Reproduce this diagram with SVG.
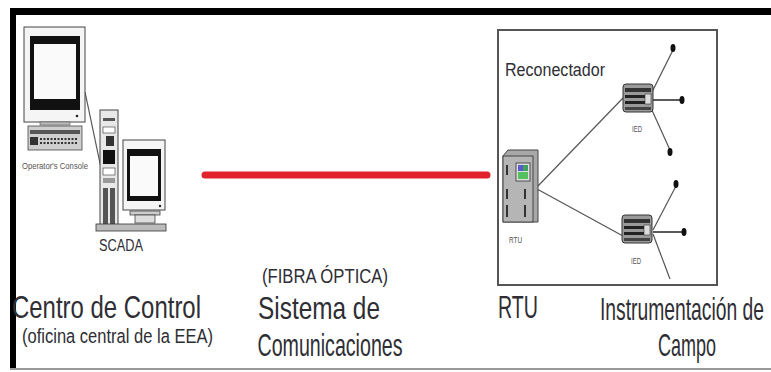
<svg xmlns="http://www.w3.org/2000/svg" width="771" height="372" viewBox="0 0 771 372">
  <defs>
    <style>
      .lbl { font-family: "Liberation Sans", Arial, sans-serif; fill: #2e2e34; }
      .big { font-size: 32px; }
      .mid { font-size: 20px; }
      .tiny { font-family: "Liberation Sans", Arial, sans-serif; font-size: 9px; fill: #555; }
      .dev { stroke: #444; stroke-width: 1; }
      .wire { stroke: #555; stroke-width: 1.2; fill: none; }
      .lead { stroke: #333; stroke-width: 1.6; fill: none; }
    </style>
    <g id="ied-body">
      <rect x="0" y="0" width="30" height="28" rx="3" fill="#9a9a9a" stroke="#333"/>
      <rect x="2" y="4" width="26" height="4" fill="#333"/>
      <rect x="2" y="11" width="20" height="3" fill="#222"/>
      <rect x="2" y="17" width="20" height="3" fill="#222"/>
      <rect x="22" y="10" width="6" height="10" fill="#ddd" stroke="#333" stroke-width="0.6"/>
      <rect x="2" y="23" width="26" height="3" fill="#444"/>
    </g>
  </defs>

  <rect width="771" height="372" fill="#ffffff"/>

  <!-- outer frame -->
  <rect x="10" y="8" width="761" height="7" fill="#000"/>
  <rect x="10" y="8" width="6" height="362" fill="#000"/>
  <rect x="10" y="368" width="761" height="2" fill="#999"/>

  <!-- connectors -->
  <g id="connectors">
    <line x1="85" y1="92" x2="101" y2="168" class="wire"/>
    <line x1="205" y1="175" x2="487" y2="175" stroke="#e3232b" stroke-width="7" stroke-linecap="round"/>
    <line x1="537" y1="187" x2="623" y2="98" class="wire"/>
    <line x1="537" y1="189" x2="623" y2="236" class="wire"/>
    <!-- upper IED leads -->
    <line x1="652" y1="92" x2="673" y2="50" class="wire"/>
    <line x1="652" y1="100" x2="681" y2="100" class="lead"/>
    <line x1="651" y1="108" x2="670" y2="150" class="wire"/>
    <ellipse cx="673" cy="48" rx="2.5" ry="4" fill="#111"/>
    <ellipse cx="682" cy="100" rx="2.5" ry="4" fill="#111"/>
    <ellipse cx="670" cy="152" rx="2.5" ry="4" fill="#111"/>
    <!-- lower IED leads -->
    <line x1="653" y1="230" x2="676" y2="186" class="wire"/>
    <line x1="653" y1="232" x2="683" y2="232" class="lead"/>
    <line x1="653" y1="234" x2="670" y2="279" class="wire"/>
    <ellipse cx="676" cy="184" rx="2.5" ry="4" fill="#111"/>
    <ellipse cx="684" cy="232" rx="2.5" ry="4" fill="#111"/>
  </g>

  <!-- operator console -->
  <g id="operator-console">
    <rect x="24" y="27" width="61" height="95" fill="#f5f5f5" class="dev"/>
    <rect x="30" y="36" width="50" height="74" fill="#111"/>
    <rect x="34" y="44" width="42" height="55" fill="#fafafa"/>
    <circle cx="77" cy="116" r="1.3" fill="#222"/>
    <rect x="40" y="122" width="30" height="3" fill="#bbb" stroke="#555" stroke-width="0.6"/>
    <rect x="28" y="126" width="54" height="24" fill="#cfcfcf" stroke="#444" stroke-width="0.8"/>
    <rect x="30" y="130" width="50" height="4" fill="#555"/>
    <rect x="30" y="137" width="8" height="8" fill="#333"/>
    <path d="M40 139h38M40 143h38" stroke="#333" stroke-width="2" stroke-dasharray="2 1.5"/>
    <text x="55" y="169" text-anchor="middle" class="tiny" font-size="11" textLength="66" lengthAdjust="spacingAndGlyphs" fill="#666">Operator's Console</text>
  </g>

  <!-- SCADA server and monitor -->
  <g id="scada">
    <rect x="100" y="110" width="18" height="118" fill="#e8e8e8" class="dev"/>
    <rect x="103" y="118" width="12" height="3" fill="#555"/>
    <rect x="103" y="127" width="12" height="6" fill="#fff" stroke="#333" stroke-width="0.6"/>
    <rect x="106" y="136" width="8" height="10" fill="#333"/>
    <rect x="103" y="150" width="12" height="14" fill="#111"/>
    <rect x="103" y="168" width="12" height="7" fill="#fff" stroke="#333" stroke-width="0.6"/>
    <rect x="103" y="178" width="12" height="5" fill="#999"/>
    <rect x="103" y="188" width="5" height="36" fill="#555"/>
    <rect x="110" y="188" width="5" height="36" fill="#555"/>
    <rect x="123" y="140" width="42" height="70" fill="#f5f5f5" class="dev"/>
    <rect x="127" y="149" width="34" height="52" fill="#111"/>
    <rect x="130" y="156" width="28" height="40" fill="#fafafa"/>
    <circle cx="160" cy="206" r="1.2" fill="#222"/>
    <rect x="130" y="211" width="30" height="4" fill="#ccc" stroke="#444" stroke-width="0.8"/>
    <rect x="135" y="215" width="20" height="8" fill="#ddd" stroke="#444" stroke-width="0.8"/>
    <rect x="96" y="224" width="70" height="7" fill="#bbb" stroke="#333" stroke-width="0.8"/>
    <text x="121" y="251" text-anchor="middle" class="lbl" font-size="16" textLength="44" lengthAdjust="spacingAndGlyphs" fill="#4a4a58">SCADA</text>
  </g>

  <!-- recloser enclosure -->
  <g id="reconectador">
    <rect x="498" y="30" width="219" height="255" fill="none" stroke="#555" stroke-width="2"/>
    <text x="505" y="76" class="lbl" font-size="18" textLength="100" lengthAdjust="spacingAndGlyphs" fill="#3a3a48">Reconectador</text>
  </g>

  <g id="rtu">
    <path d="M503 156 L508 150 L538 150 L538 222 L503 222 Z" fill="#a8a8a8" stroke="#444"/>
    <rect x="503" y="156" width="30" height="66" fill="#b5b5b5" stroke="#444"/>
    <rect x="516" y="163" width="14" height="18" fill="#ddd" stroke="#333" stroke-width="0.8"/>
    <rect x="518" y="165" width="5" height="6" fill="#5a5ad0"/>
    <rect x="523" y="165" width="5" height="6" fill="#40a060"/>
    <rect x="518" y="172" width="10" height="7" fill="#55c060"/>
    <path d="M507 165v10M507 189v10M525 189v10M507 205v12M525 205v12" stroke="#333" stroke-width="2"/>
    <text x="509" y="243" class="tiny" font-size="11" textLength="13" lengthAdjust="spacingAndGlyphs">RTU</text>
  </g>

  <g id="ied-1">
    <use href="#ied-body" x="623" y="84"/>
    <text x="637" y="132" text-anchor="middle" class="tiny" font-size="9" textLength="10" lengthAdjust="spacingAndGlyphs">IED</text>
  </g>

  <g id="ied-2">
    <use href="#ied-body" x="622" y="215"/>
    <text x="636" y="264" text-anchor="middle" class="tiny" font-size="9" textLength="10" lengthAdjust="spacingAndGlyphs">IED</text>
  </g>

  <!-- captions -->
  <g id="captions">
    <text x="12" y="318" class="lbl big" textLength="189" lengthAdjust="spacingAndGlyphs">Centro de Control</text>
    <text x="22" y="343" class="lbl mid" textLength="191" lengthAdjust="spacingAndGlyphs">(oficina central de la EEA)</text>
    <text x="325" y="283" text-anchor="middle" class="lbl mid" textLength="126" lengthAdjust="spacingAndGlyphs">(FIBRA ÓPTICA)</text>
    <text x="319" y="319" text-anchor="middle" class="lbl big" textLength="122" lengthAdjust="spacingAndGlyphs">Sistema de</text>
    <text x="330" y="356" text-anchor="middle" class="lbl big" textLength="145" lengthAdjust="spacingAndGlyphs">Comunicaciones</text>
    <text x="518" y="318" text-anchor="middle" class="lbl big" textLength="40" lengthAdjust="spacingAndGlyphs">RTU</text>
    <text x="682" y="320" text-anchor="middle" class="lbl big" textLength="164" lengthAdjust="spacingAndGlyphs">Instrumentación de</text>
    <text x="687" y="356" text-anchor="middle" class="lbl big" textLength="58" lengthAdjust="spacingAndGlyphs">Campo</text>
  </g>
</svg>
